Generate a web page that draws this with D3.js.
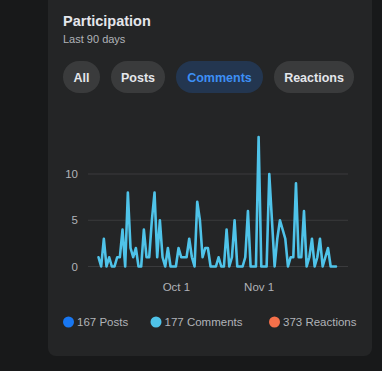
<!DOCTYPE html>
<html>
<head>
<meta charset="utf-8">
<script src="https://cdn.jsdelivr.net/npm/d3@7"></script>
<style>
  html, body { margin: 0; padding: 0; background: #18191a; }
  svg { display: block; }
</style>
</head>
<body>
<svg id="chart" width="382" height="371"></svg>
<script>
// ---- data ----
const startDate = new Date(2023, 8, 2); // Sep 2
const comments = [
  1, 0, 3, 0, 1, 0, 0, 1, 1, 4,
  0, 8, 2, 1, 2, 0, 0, 4, 1, 1,
  5, 8, 1, 5, 1, 0, 2, 0, 0, 0,
  2, 1, 1, 1, 3, 1, 0, 7, 5, 1,
  2, 2, 0, 0, 0, 1, 0, 0, 4, 0,
  1, 5, 0, 0, 0, 1, 6, 0, 0, 0,
  14, 0, 0, 0, 10, 5, 0, 3, 5, 4,
  3, 0, 1, 1, 9, 1, 1, 6, 0, 1,
  3, 0, 1, 3, 0, 1, 2, 0, 0, 0
];
const yTicks = [0, 5, 10];
const xTickDates = [new Date(2023, 9, 1), new Date(2023, 10, 1)];
const xTickLabels = ["Oct 1", "Nov 1"];
const filters = ["All", "Posts", "Comments", "Reactions"];
const activeFilter = "Comments";
const legendLabels = ["Posts", "Comments", "Reactions"];
const legendCounts = [167, 177, 373];
const legendColors = ["#1877f2", "#4fc3e9", "#f5704a"];

const dates = d3.timeDay.range(startDate, d3.timeDay.offset(startDate, comments.length));
const series = dates.map((d, i) => ({ date: d, value: comments[i] }));

// ---- layout ----
const svg = d3.select("#chart");
const font = "'Liberation Sans', Arial, sans-serif";

svg.append("rect").attr("x", 0).attr("y", 0).attr("width", 382).attr("height", 371).attr("fill", "#18191a");
svg.append("rect").attr("x", 48).attr("y", -12).attr("width", 324).attr("height", 368)
  .attr("rx", 8).attr("fill", "#242526");

svg.append("text").attr("x", 63).attr("y", 26).text("Participation")
  .attr("font-family", font).attr("font-weight", "bold").attr("font-size", 14.5).attr("fill", "#e4e6eb");
svg.append("text").attr("x", 63).attr("y", 43).text("Last 90 days")
  .attr("font-family", font).attr("font-size", 11).attr("fill", "#b0b3b8");

// filter pills
const pillFont = 12.5;
const pillWidths = [37, 54, 87, 80];
let px = 63;
const pillGap = 11, pillY = 61, pillH = 32;
filters.forEach((f, i) => {
  const w = pillWidths[i];
  const g = svg.append("g");
  g.append("rect").attr("x", px).attr("y", pillY).attr("width", w).attr("height", pillH)
    .attr("rx", pillH / 2).attr("fill", f === activeFilter ? "#233650" : "#3a3b3c");
  g.append("text").text(f)
    .attr("font-family", font).attr("font-weight", "bold").attr("font-size", pillFont)
    .attr("fill", f === activeFilter ? "#3d8ff5" : "#e4e6eb")
    .attr("text-anchor", "middle").attr("x", px + w / 2).attr("y", pillY + pillH / 2 + 4.5);
  px += w + pillGap;
});

// scales
const plotLeft = 88, plotRight = 348;
const x = d3.scaleTime()
  .domain([dates[0], dates[dates.length - 1]])
  .range([98.5, 336]);
const y = d3.scaleLinear().domain([0, 10]).range([266.5, 174]);

// grid
const grid = svg.append("g");
grid.selectAll("line").data(yTicks).join("line")
  .attr("x1", plotLeft).attr("x2", plotRight)
  .attr("y1", d => y(d)).attr("y2", d => y(d))
  .attr("stroke", "#3a3b3d").attr("stroke-width", 1);

// y axis
const yAxis = svg.append("g").attr("transform", `translate(${plotLeft - 10},0)`)
  .call(d3.axisLeft(y).tickValues(yTicks).tickSize(0).tickPadding(0));
yAxis.select(".domain").remove();
yAxis.selectAll("text").attr("font-family", font).attr("font-size", 11.5).attr("fill", "#b0b3b8");

// x axis
const xAxis = svg.append("g").attr("transform", `translate(0,283)`)
  .call(d3.axisBottom(x).tickValues(xTickDates).tickFormat((d, i) => xTickLabels[i]).tickSize(0).tickPadding(0));
xAxis.select(".domain").remove();
xAxis.selectAll("text").attr("font-family", font).attr("font-size", 11.5).attr("fill", "#b0b3b8");

// line
const line = d3.line().x(d => x(d.date)).y(d => y(d.value)).curve(d3.curveLinear);
svg.append("path").datum(series).attr("d", line)
  .attr("fill", "none").attr("stroke", "#4fc3e9").attr("stroke-width", 2.6)
  .attr("stroke-linejoin", "round").attr("stroke-linecap", "round");

// legend
const legendX = [68.5, 156, 274.5];
const lg = svg.append("g");
legendLabels.forEach((lab, i) => {
  lg.append("circle").attr("cx", legendX[i]).attr("cy", 322).attr("r", 5.5).attr("fill", legendColors[i]);
  lg.append("text").attr("x", legendX[i] + 8.5).attr("y", 326)
    .text(`${legendCounts[i]} ${lab}`)
    .attr("font-family", font).attr("font-size", 11.5).attr("fill", "#b0b3b8");
});
</script>
</body>
</html>
